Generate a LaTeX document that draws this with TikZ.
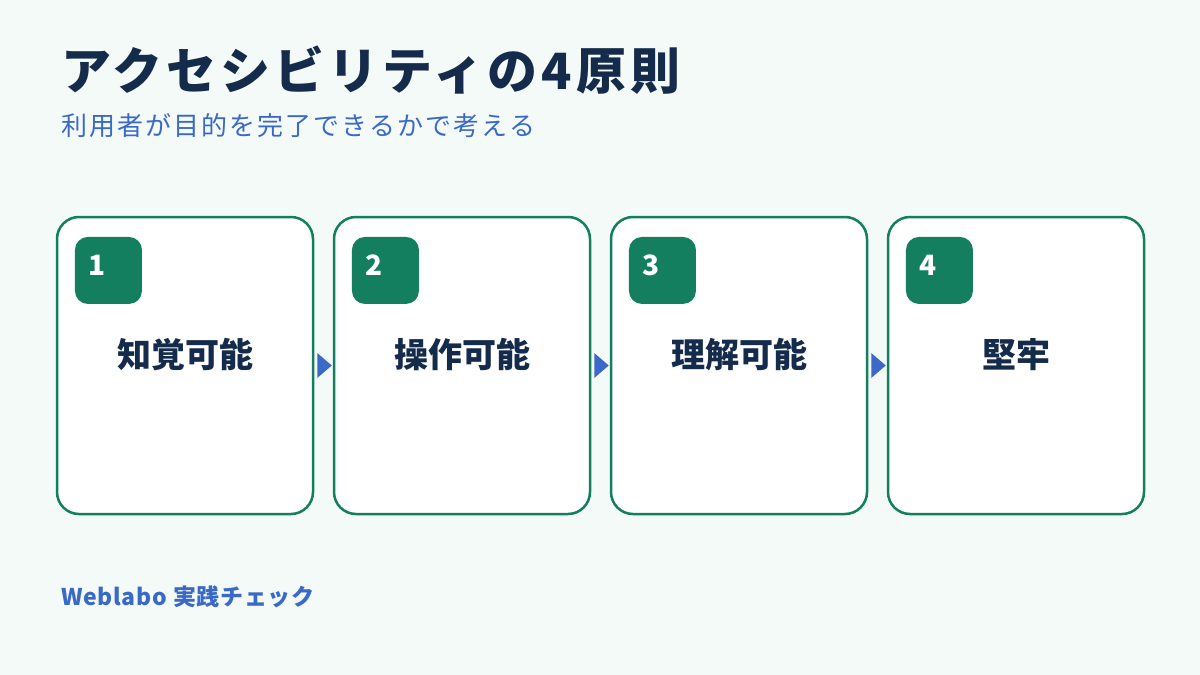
\documentclass[tikz,border=0pt]{standalone}
\usepackage{fontspec}
\setmainfont{Noto Sans CJK JP}
\newfontfamily\jp{Noto Sans CJK JP}
\newfontfamily\jptitle{Noto Sans CJK JP}[LetterSpace=8]
\newfontfamily\jpsp{Noto Sans CJK JP}[LetterSpace=8]
\newfontfamily\jpfoot{Noto Sans CJK JP}[LetterSpace=3]
\definecolor{bg}{HTML}{F4FAF7}
\definecolor{grn}{HTML}{137F5E}
\definecolor{navy}{HTML}{142B4B}
\definecolor{blu}{HTML}{3A69C8}
\tikzset{
  card/.style={draw=grn, line width=2.5pt, fill=white, rounded corners=22pt, minimum width=256pt, minimum height=297pt, inner sep=0pt},
  badge/.style={fill=grn, rounded corners=13pt, minimum width=67pt, minimum height=67pt, inner sep=0pt, anchor=north west},
  num/.style={text=white, font=\jp\bfseries\fontsize{28}{28}\selectfont, anchor=base west, inner sep=0pt},
  lab/.style={text=navy, font=\jp\bfseries\fontsize{34}{34}\selectfont, anchor=base, inner sep=0pt},
  flow/.style={fill=blu},
}
\begin{document}
\begin{tikzpicture}[x=1pt,y=-1pt]
\fill[bg] (0,0) rectangle (1200,675);
\useasboundingbox (0,0) rectangle (1200,675);
\node[anchor=base west, inner sep=0pt, text=navy, font=\jptitle\bfseries\fontsize{50}{50}\selectfont] (title) at (61,89) {アクセシビリティの4原則};
\node[anchor=base west, inner sep=0pt, text=blu, font=\jpsp\fontsize{26}{26}\selectfont] (sub) at (61,135) {利用者が目的を完了できるかで考える};
\foreach \i/\x/\t in {1/185/知覚可能, 2/462/操作可能, 3/739/理解可能, 4/1016/堅牢} {
  \node[card] (c\i) at (\x,365.5) {};
  \node[badge] (b\i) at ([xshift=19pt,yshift=-21pt]c\i.north west) {};
  \node[num] (n\i) at ([xshift=33pt,yshift=-60pt]c\i.north west) {\i};
  \node[lab] (l\i) at ([yshift=-152pt]c\i.north) {\t};
}
\foreach \a/\b in {1/2,2/3,3/4} {
  \fill[flow] ([xshift=3pt,yshift=12.5pt]c\a.east) -- ([xshift=-1pt]c\b.west) -- ([xshift=3pt,yshift=-12.5pt]c\a.east) -- cycle;
}
\node[anchor=base west, inner sep=0pt, text=blu, font=\jpfoot\bfseries\fontsize{23}{23}\selectfont] (foot) at (61,605) {Weblabo 実践チェック};
\end{tikzpicture}
\end{document}
